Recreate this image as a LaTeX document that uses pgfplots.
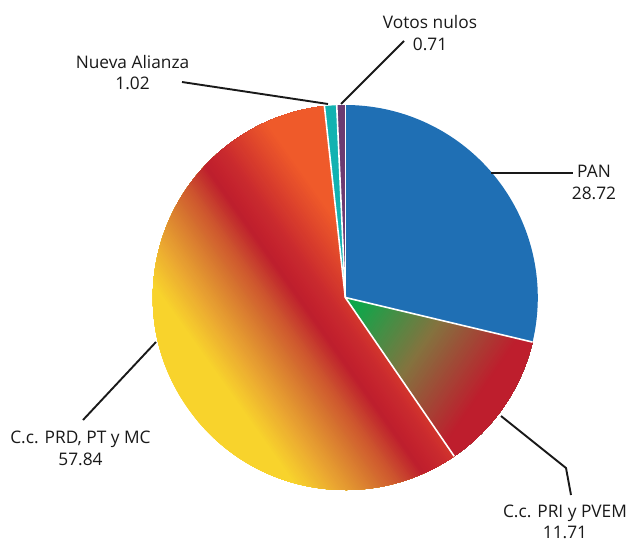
\documentclass[border=0pt]{standalone}
\usepackage{pgfplots}
\pgfplotsset{compat=1.18}
\usepackage{pgfplotstable}
\usepackage{fontspec}
\setmainfont{Open Sans}
\definecolor{panblue}{HTML}{1F6FB4}
\definecolor{nacyan}{HTML}{12B2B1}
\definecolor{vnpurple}{HTML}{6C3A71}
\definecolor{cY}{HTML}{F8D32C}
\definecolor{cO}{HTML}{EBA831}
\definecolor{cO2}{HTML}{DC8430}
\definecolor{cOR}{HTML}{CD552E}
\definecolor{cR}{HTML}{BE1E2D}
\definecolor{cR2}{HTML}{CA2A2E}
\definecolor{cR3}{HTML}{E24A2B}
\definecolor{cT}{HTML}{EF5A2A}
\definecolor{cG}{HTML}{0FA64A}
\definecolor{cM}{HTML}{84733F}

\pgfplotstableread{
name value
PAN 28.72
PRI 11.71
PRD 57.84
NA 1.02
VN 0.71
}\votes

% #1 s, #2 s1, #3 c1, #4 s2, #5 c2
\newcommand\stripmix[5]{%
  \pgfmathsetmacro\pp{max(0,min(100,100*(#4-#1)/(#4-#2)))}%
  \colorlet{strip}{#3!\pp!#5}}
\newcommand\prdcolor[1]{%
  \ifdim #1pt<-150pt \colorlet{strip}{cY}%
  \else\ifdim #1pt<-120pt \stripmix{#1}{-150}{cY}{-120}{cO}%
  \else\ifdim #1pt<-95pt \stripmix{#1}{-120}{cO}{-95}{cO2}%
  \else\ifdim #1pt<-65pt \stripmix{#1}{-95}{cO2}{-65}{cOR}%
  \else\ifdim #1pt<-39pt \stripmix{#1}{-65}{cOR}{-39}{cR}%
  \else\ifdim #1pt<-15pt \stripmix{#1}{-39}{cR}{-15}{cR2}%
  \else\ifdim #1pt<18pt \stripmix{#1}{-15}{cR2}{18}{cR3}%
  \else\ifdim #1pt<36pt \stripmix{#1}{18}{cR3}{36}{cT}%
  \else \colorlet{strip}{cT}%
  \fi\fi\fi\fi\fi\fi\fi\fi}
\newcommand\pricolor[1]{%
  \ifdim #1pt<15pt \colorlet{strip}{cG}%
  \else\ifdim #1pt<90pt \stripmix{#1}{15}{cG}{90}{cM}%
  \else\ifdim #1pt<165pt \stripmix{#1}{90}{cM}{165}{cR}%
  \else \colorlet{strip}{cR}%
  \fi\fi\fi}

\begin{document}
\begin{tikzpicture}
\pgfplotstablegetelem{0}{value}\of\votes \let\vA\pgfplotsretval
\pgfplotstablegetelem{1}{value}\of\votes \let\vB\pgfplotsretval
\pgfplotstablegetelem{2}{value}\of\votes \let\vC\pgfplotsretval
\pgfplotstablegetelem{3}{value}\of\votes \let\vD\pgfplotsretval
\pgfplotstablegetelem{4}{value}\of\votes \let\vE\pgfplotsretval
\pgfmathsetmacro\aA{90}
\pgfmathsetmacro\aB{\aA-3.6*\vA}
\pgfmathsetmacro\aC{\aB-3.6*\vB}
\pgfmathsetmacro\aD{\aC-3.6*\vC}
\pgfmathsetmacro\aE{\aD-3.6*\vD}
\pgfmathsetmacro\aF{\aE-3.6*\vE}
\pgfmathsetmacro\bisB{(\aB+\aC)/2}
\def\rad{192.5}
\begin{axis}[scale only axis, width=629pt, height=542pt,
  xmin=0, xmax=629, ymin=0, ymax=542, hide axis, clip=false]
\addplot[draw=none] coordinates {(0,0) (629,542)};
\pgfplotsextra{
  \coordinate (C) at (axis cs:345.3,244.5);
  % PAN
  \fill[panblue] (C) -- ++(\aA:\rad pt) arc[start angle=\aA, end angle=\aB, radius=\rad pt] -- cycle;
  % PRI
  \begin{scope}
    \clip (C) -- ++(\aB:\rad pt) arc[start angle=\aB, end angle=\aC, radius=\rad pt] -- cycle;
    \foreach \i in {0,...,100}{
      \pgfmathsetmacro\s{-2+2*\i}
      \pricolor{\s}
      \fill[strip, shift={(C)}, rotate=\bisB] (\s pt,-260pt) rectangle (210pt,260pt);
    }
  \end{scope}
  % PRD
  \begin{scope}
    \clip (C) -- ++(\aC:\rad pt) arc[start angle=\aC, end angle=\aD, radius=\rad pt] -- cycle;
    \foreach \i in {0,...,146}{
      \pgfmathsetmacro\s{-196+2*\i}
      \prdcolor{\s}
      \fill[strip, shift={(C)}, rotate=35.3] (\s pt,-260pt) rectangle (110pt,260pt);
    }
  \end{scope}
  % NA, VN
  \fill[nacyan] (C) -- ++(\aD:\rad pt) arc[start angle=\aD, end angle=\aE, radius=\rad pt] -- cycle;
  \fill[vnpurple] (C) -- ++(\aE:\rad pt) arc[start angle=\aE, end angle=\aF, radius=\rad pt] -- cycle;
  % separators
  \foreach \a in {\aA,\aB,\aC,\aD,\aE}{
    \draw[white, line width=1.6pt] (C) -- ++(\a:\rad pt);
  }
  % leader lines
  \tikzset{lead/.style={black!90, line width=1.9pt}}
  \draw[lead] (axis cs:491,369) -- (axis cs:573,369);
  \draw[lead] (axis cs:501,126) -- (axis cs:566,74) -- (axis cs:571,47);
  \draw[lead] (axis cs:156,200) -- (axis cs:83,122);
  \draw[lead] (axis cs:182,460) -- (axis cs:328,438);
  \draw[lead] (axis cs:404,501) -- (axis cs:341,438);
  % labels
  \tikzset{lab/.style={align=center, font=\fontsize{17.3}{21.5}\selectfont, inner sep=0pt, text=black!90}}
  \node[lab] at (axis cs:594,359.5) {PAN\\28.72};
  \node[lab] at (axis cs:565,20) {C.c. PRI y PVEM\\11.71};
  \node[lab] at (axis cs:80.5,93.5) {C.c. PRD, PT y MC\\57.84};
  \node[lab] at (axis cs:132.5,469.5) {Nueva Alianza\\1.02};
  \node[lab] at (axis cs:430,509) {Votos nulos\\0.71};
}
\end{axis}
\end{tikzpicture}
\end{document}
